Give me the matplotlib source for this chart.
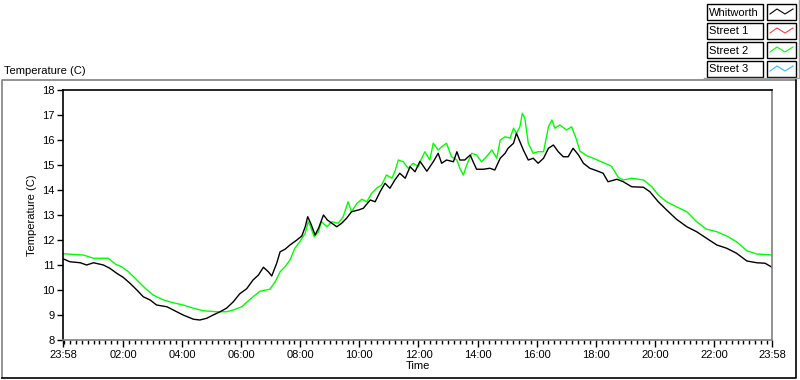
import matplotlib
matplotlib.use("Agg")
import matplotlib.pyplot as plt
from matplotlib.lines import Line2D
from matplotlib.patches import Rectangle

# -------------------- Font settings ---------------------
plt.rcParams['font.family'] = ['Liberation Sans', 'DejaVu Sans']
font_size = 8

# ================= Data (minutes after 23:58, deg C) =================
whit_t = [0, 14, 35, 48, 62, 82, 95, 109, 122, 136, 150, 163, 177, 190, 211,
          224, 244, 265, 278, 292, 305, 319, 332, 346, 359, 373, 386, 397, 407,
          417, 424, 434, 441, 451, 461, 475, 485, 492, 497, 503, 512, 519, 529,
          537, 546, 556, 566, 576, 586, 600, 610, 624, 634, 644, 654, 664, 674,
          684, 695, 705, 715, 725, 739, 752, 762, 769, 779, 793, 800, 806, 816,
          827, 833, 840, 854, 867, 877, 888, 898, 904, 915, 921, 928, 935, 945,
          955, 965, 976, 986, 996, 1006, 1016, 1026, 1036, 1047, 1057, 1070,
          1084, 1097, 1107, 1125, 1138, 1155, 1179, 1192, 1209, 1226, 1246,
          1267, 1287, 1307, 1328, 1348, 1368, 1389, 1409, 1426, 1440]
whit_temp = [11.25, 11.13, 11.09, 11.0, 11.09, 11.0, 10.87, 10.67, 10.51, 10.27,
             10.0, 9.73, 9.6, 9.4, 9.33, 9.2, 9.0, 8.83, 8.8, 8.87, 9.0, 9.13,
             9.27, 9.53, 9.85, 10.05, 10.4, 10.6, 10.91, 10.73, 10.56, 11.07,
             11.53, 11.63, 11.8, 12.0, 12.16, 12.53, 12.93, 12.67, 12.2, 12.47,
             13.0, 12.8, 12.67, 12.53, 12.67, 12.87, 13.13, 13.2, 13.27, 13.6,
             13.53, 13.93, 14.27, 14.07, 14.4, 14.67, 14.47, 14.93, 14.73, 15.15,
             14.75, 15.13, 15.47, 15.07, 15.2, 15.13, 15.53, 15.2, 15.2, 15.4,
             15.13, 14.83, 14.83, 14.87, 14.8, 15.27, 15.47, 15.67, 15.87, 16.27,
             15.93, 15.6, 15.2, 15.27, 15.07, 15.27, 15.67, 15.8, 15.53, 15.33,
             15.33, 15.67, 15.4, 15.07, 14.87, 14.77, 14.67, 14.33, 14.43, 14.33,
             14.13, 14.11, 13.93, 13.53, 13.2, 12.83, 12.53, 12.33, 12.07, 11.8,
             11.67, 11.47, 11.16, 11.09, 11.07, 10.91]

street2_t = [0, 41, 62, 92, 106, 119, 133, 150, 167, 183, 204, 224, 244, 265,
             285, 312, 332, 346, 363, 380, 400, 420, 431, 441, 451, 461, 471,
             481, 492, 498, 503, 510, 519, 525, 536, 546, 559, 569, 579, 586,
             597, 607, 617, 627, 637, 647, 657, 668, 674, 681, 691, 701, 711,
             722, 727, 735, 745, 752, 762, 769, 779, 789, 800, 806, 813, 820,
             830, 840, 850, 860, 871, 881, 888, 898, 908, 915, 921, 928, 933,
             938, 945, 955, 965, 976, 986, 993, 999, 1009, 1023, 1033, 1042,
             1050, 1064, 1077, 1097, 1114, 1128, 1138, 1155, 1179, 1196, 1209,
             1226, 1246, 1267, 1287, 1307, 1328, 1348, 1368, 1389, 1409, 1440]
street2_temp = [11.45, 11.4, 11.27, 11.27, 11.04, 10.93, 10.73, 10.4, 10.07, 9.8,
                9.6, 9.49, 9.4, 9.27, 9.17, 9.13, 9.13, 9.2, 9.33, 9.63, 9.95,
                10.03, 10.33, 10.73, 10.93, 11.2, 11.67, 11.93, 12.27, 12.73,
                12.53, 12.13, 12.33, 12.73, 12.53, 12.73, 12.67, 12.93, 13.53,
                13.13, 13.47, 13.63, 13.53, 13.87, 14.07, 14.2, 14.6, 14.47,
                14.73, 15.2, 15.13, 14.87, 15.07, 14.93, 15.2, 15.53, 15.2, 15.87,
                15.6, 15.73, 15.87, 15.33, 15.2, 14.87, 14.6, 15.0, 15.47, 15.4,
                15.13, 15.33, 15.6, 15.27, 16.0, 16.13, 16.07, 16.47, 16.27, 16.53,
                17.07, 16.87, 15.87, 15.47, 15.53, 15.53, 16.53, 16.8, 16.47, 16.6,
                16.4, 16.53, 16.07, 15.55, 15.37, 15.27, 15.1, 14.95, 14.5, 14.4,
                14.47, 14.4, 14.13, 13.8, 13.53, 13.33, 13.13, 12.73, 12.43, 12.33,
                12.16, 11.93, 11.57, 11.44, 11.4]

series_names = ['Whitworth', 'Street 1', 'Street 2', 'Street 3']
series_colors = ['black', '#ff4040', '#00ff00', '#33bbff']

x_ticks = [0, 122, 242, 362, 482, 602, 722, 842, 962, 1082, 1202, 1322, 1440]
x_ticklabels = ['23:58', '02:00', '04:00', '06:00', '08:00', '10:00', '12:00',
                '14:00', '16:00', '18:00', '20:00', '22:00', '23:58']
y_ticks = list(range(8, 19))

W, H = 800, 380


def fx(x):
    return x / W


def fy(y):
    return 1 - y / H


# ================= Plotting ====================
fig = plt.figure(figsize=(8, 3.8), dpi=100)
fig.patch.set_facecolor('white')

ax = fig.add_axes([fx(63), fy(340), (772 - 63) / W, (340 - 90) / H])

ax.plot(street2_t, street2_temp, color=series_colors[2], linewidth=1)
ax.plot(whit_t, whit_temp, color=series_colors[0], linewidth=1)

ax.set_xlim(0, 1440)
ax.set_ylim(8, 18)

ax.set_xticks(x_ticks)
ax.set_xticklabels(x_ticklabels, fontsize=font_size)
ax.set_xticks([m for m in range(2, 1440, 12) if m not in x_ticks], minor=True)
ax.set_yticks(y_ticks)
ax.set_yticklabels([str(v) for v in y_ticks], fontsize=font_size)

ax.tick_params(axis='x', which='major', length=5, width=1, pad=2, direction='out')
ax.tick_params(axis='x', which='minor', length=3, width=1, direction='out')
ax.tick_params(axis='y', length=4, width=1, pad=2, direction='out')

# Sunken plot-area frame
for side, col in [('top', 'black'), ('left', 'black'),
                  ('bottom', '#808080'), ('right', '#808080')]:
    ax.spines[side].set_color(col)
    ax.spines[side].set_linewidth(1.2)

ax.set_xlabel('Time', fontsize=font_size, labelpad=1)
ax.set_ylabel('Temperature (C)', fontsize=font_size, labelpad=4)

# Graph title at top left
fig.text(fx(4), fy(71), 'Temperature (C)', fontsize=font_size,
         ha='left', va='center')

# Outer graph frame
fig.add_artist(Line2D([fx(2), fx(2), fx(796)], [fy(378), fy(80), fy(80)],
                      color='#808080', linewidth=1.2))
fig.add_artist(Line2D([fx(2), fx(796), fx(796)], [fy(378), fy(378), fy(80)],
                      color='black', linewidth=1.2))

# Legend (plot legend boxes)
row_tops = [4, 23, 42, 61]
for name, col, top in zip(series_names, series_colors, row_tops):
    fig.add_artist(Rectangle((fx(707), fy(top + 16)), 56 / W, 16 / H,
                             transform=fig.transFigure, facecolor='white',
                             edgecolor='black', linewidth=1))
    fig.text(fx(709), fy(top + 8.5), name, fontsize=font_size,
             ha='left', va='center')
    fig.add_artist(Rectangle((fx(767), fy(top + 16)), 29 / W, 16 / H,
                             transform=fig.transFigure, facecolor='white',
                             edgecolor='black', linewidth=1))
    fig.add_artist(Line2D([fx(770), fx(777), fx(785), fx(793)],
                          [fy(top + 10), fy(top + 5), fy(top + 10), fy(top + 5)],
                          color=col, linewidth=0.8))
fig.add_artist(Line2D([fx(704), fx(799), fx(799)], [fy(78), fy(78), fy(0)],
                      color='#a0a0a0', linewidth=1))

plt.savefig('out.png', dpi=100, facecolor='white')
